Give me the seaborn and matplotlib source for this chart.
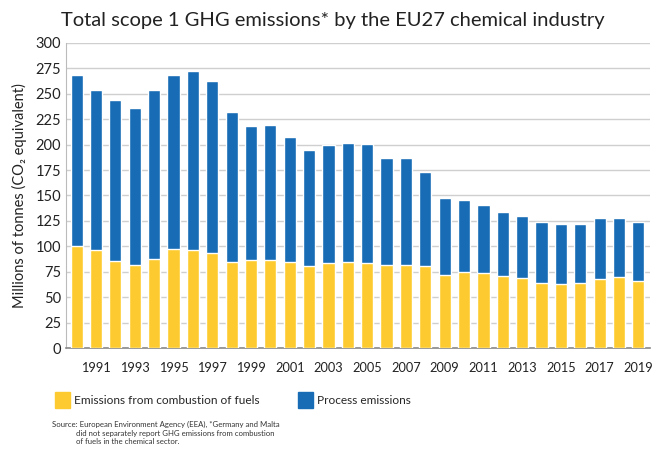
import matplotlib.pyplot as plt
import matplotlib.patches as mpatches
import pandas as pd
import seaborn as sns

years = list(range(1990, 2020))
total = [269, 253.5, 244, 236, 253.5, 269, 272.5, 263, 232, 218,
         219, 208, 195, 199.5, 202, 201, 186.5, 186.5, 173, 147.5,
         145.5, 141, 134, 130, 124, 122, 121.5, 128, 128, 124]
fuels = [100, 96, 86, 82, 87.5, 97, 96, 93, 85, 87,
         86.5, 85, 81, 84, 84.5, 83.5, 82, 81.5, 81, 72,
         75, 73.5, 70.5, 68.5, 63.5, 63, 63.5, 67.5, 69.5, 66]
tick_years = [str(y) for y in range(1991, 2020, 2)]

df = pd.DataFrame({'year': [str(y) for y in years],
                   'total': total, 'fuels': fuels})

yellow = '#FDCB2F'
blue = '#176CB5'

sns.set_style('white')
plt.rcParams['font.family'] = ['Lato', 'DejaVu Sans']

fig = plt.figure(figsize=(6.53, 4.51), dpi=100)
ax = fig.add_axes([66 / 653, 1 - 348 / 451, 584 / 653, 305 / 451])

sns.barplot(data=df, x='year', y='total', color=blue, width=0.63,
            saturation=1, ax=ax, zorder=2)
sns.barplot(data=df, x='year', y='fuels', color=yellow, width=0.63,
            saturation=1, ax=ax, zorder=3)

ax.set_ylim(0, 300)
ax.set_xlim(-0.55, 29.6)
ax.set_yticks(range(0, 301, 25))
ax.set_xticks([df['year'].tolist().index(t) for t in tick_years])
ax.set_xticklabels(tick_years)
ax.tick_params(axis='both', labelsize=10.5, colors='#222222', length=0)
ax.tick_params(axis='x', labelsize=9.2, pad=10)
ax.grid(axis='y', color='#cfcfcf', linewidth=1, zorder=0)
ax.set_axisbelow(True)
for side in ['top', 'right']:
    ax.spines[side].set_visible(False)
ax.spines['left'].set_color('#bbbbbb')
ax.spines['bottom'].set_color('#888888')
ax.spines['bottom'].set_linewidth(1.2)
ax.set_xlabel('')
ax.set_ylabel('Millions of tonnes (CO\u2082 equivalent)', fontsize=10.5,
              color='#222222', labelpad=6)

fig.text(0.51, 0.955, 'Total scope 1 GHG emissions* by the EU27 chemical industry',
         ha='center', va='center', fontsize=14.5, color='#222222')

fig.legend(handles=[mpatches.Patch(color=yellow,
                                   label='Emissions from combustion of fuels')],
           loc='center left', bbox_to_anchor=(44 / 653, 1 - 400 / 451),
           frameon=False, fontsize=8.6, handlelength=1.25, handleheight=1.8,
           handletextpad=0.35)
fig.legend(handles=[mpatches.Patch(color=blue, label='Process emissions')],
           loc='center left', bbox_to_anchor=(287 / 653, 1 - 400 / 451),
           frameon=False, fontsize=8.6, handlelength=1.25, handleheight=1.8,
           handletextpad=0.35)

fig.text(52 / 653, 1 - 421 / 451,
         'Source: European Environment Agency (EEA), *Germany and Malta\n'
         '            did not separately report GHG emissions from combustion\n'
         '            of fuels in the chemical sector.',
         ha='left', va='top', fontsize=5.6, color='#333333', linespacing=1.25)

fig.savefig('out.png', dpi=100)
